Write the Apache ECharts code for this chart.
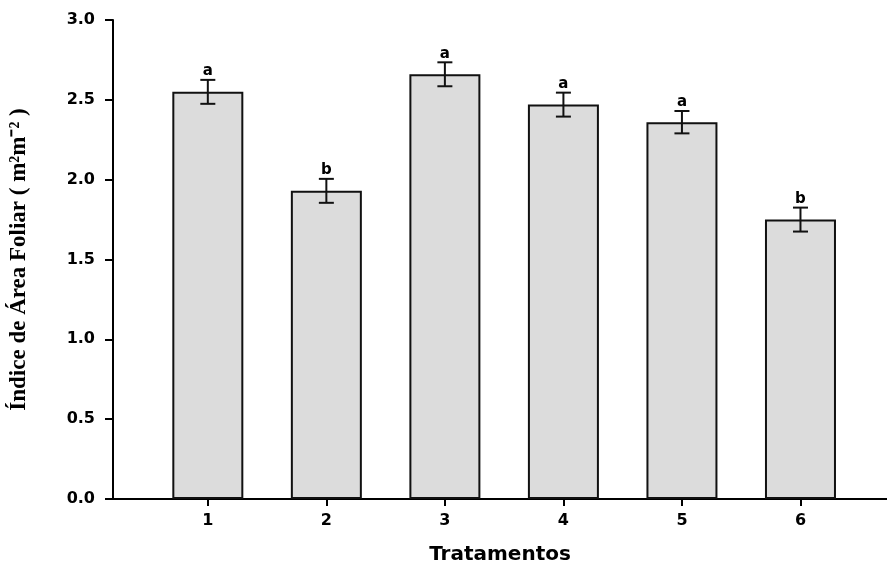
<!DOCTYPE html>
<html><head><meta charset="utf-8">
<script src="https://cdn.jsdelivr.net/npm/echarts@6/dist/echarts.min.js"></script>
<style>html,body{margin:0;padding:0;background:#fff}#c{width:887px;height:576px}</style>
</head><body><div id="c"></div>
<script>
const categories = [1, 2, 3, 4, 5, 6];
const means = [2.55, 1.93, 2.66, 2.47, 2.36, 1.75];
const errors = [0.075, 0.075, 0.075, 0.075, 0.07, 0.075];
const letters = ['a', 'b', 'a', 'a', 'a', 'b'];
const yTicks = [0, 0.5, 1.0, 1.5, 2.0, 2.5, 3.0];

const chart = echarts.init(document.getElementById('c'));
const barData = categories.map((c, i) => [c, means[i]]);
const errData = categories.map((c, i) => [c, means[i] - errors[i], means[i] + errors[i], letters[i]]);
const sans = 'DejaVu Sans, Liberation Sans, Arial';

chart.setOption({
  animation: false,
  grid: { left: 113, right: 0, top: 20, bottom: 77, containLabel: false, outerBoundsMode: 'none' },
  xAxis: {
    type: 'value', min: 0.2, max: 6.73, interval: 1,
    axisLine: { show: true, onZero: false, lineStyle: { color: '#000', width: 2 } },
    axisTick: { show: true, length: 7, lineStyle: { color: '#000', width: 2 },
      customValues: categories },
    axisLabel: { customValues: categories, color: '#000', fontFamily: sans, fontWeight: 'bold', fontSize: 16, margin: 14,
      formatter: v => String(v) },
    splitLine: { show: false },
    name: 'Tratamentos', nameLocation: 'middle', nameGap: 46,
    nameTextStyle: { color: '#000', fontFamily: sans, fontWeight: 'bold', fontSize: 20 }
  },
  yAxis: {
    type: 'value', min: 0, max: 3, interval: 0.5,
    axisLine: { show: true, lineStyle: { color: '#000', width: 2 } },
    axisTick: { show: true, length: 8, lineStyle: { color: '#000', width: 2 },
      customValues: yTicks },
    axisLabel: { customValues: yTicks, color: '#000', fontFamily: sans, fontWeight: 'bold', fontSize: 16, margin: 18,
      formatter: v => v.toFixed(1) },
    splitLine: { show: false },
    name: 'Índice de Área Foliar ( m²m⁻² )', nameLocation: 'middle', nameGap: 82, nameRotate: 90,
    nameTextStyle: { color: '#000', fontFamily: 'Liberation Serif, Times New Roman', fontWeight: 'bold', fontSize: 23 }
  },
  series: [
    {
      type: 'bar', data: barData, barWidth: 71,
      itemStyle: { color: '#dcdcdc', borderColor: '#111', borderWidth: 2 }
    },
    {
      type: 'custom', data: errData, z: 10,
      renderItem: function (params, api) {
        const x = api.value(0);
        const lo = api.coord([x, api.value(1)]);
        const hi = api.coord([x, api.value(2)]);
        const cw = 7.5;
        const st = { stroke: '#111', lineWidth: 2 };
        return {
          type: 'group',
          children: [
            { type: 'line', shape: { x1: lo[0], y1: lo[1], x2: hi[0], y2: hi[1] }, style: st },
            { type: 'line', shape: { x1: lo[0] - cw, y1: lo[1], x2: lo[0] + cw, y2: lo[1] }, style: st },
            { type: 'line', shape: { x1: hi[0] - cw, y1: hi[1], x2: hi[0] + cw, y2: hi[1] }, style: st },
            { type: 'text', style: { text: api.value(3), x: hi[0], y: hi[1] - 1, textAlign: 'center', textVerticalAlign: 'bottom',
              fill: '#000', font: 'bold 15px ' + sans } }
          ]
        };
      }
    }
  ]
});
</script>
</body></html>
